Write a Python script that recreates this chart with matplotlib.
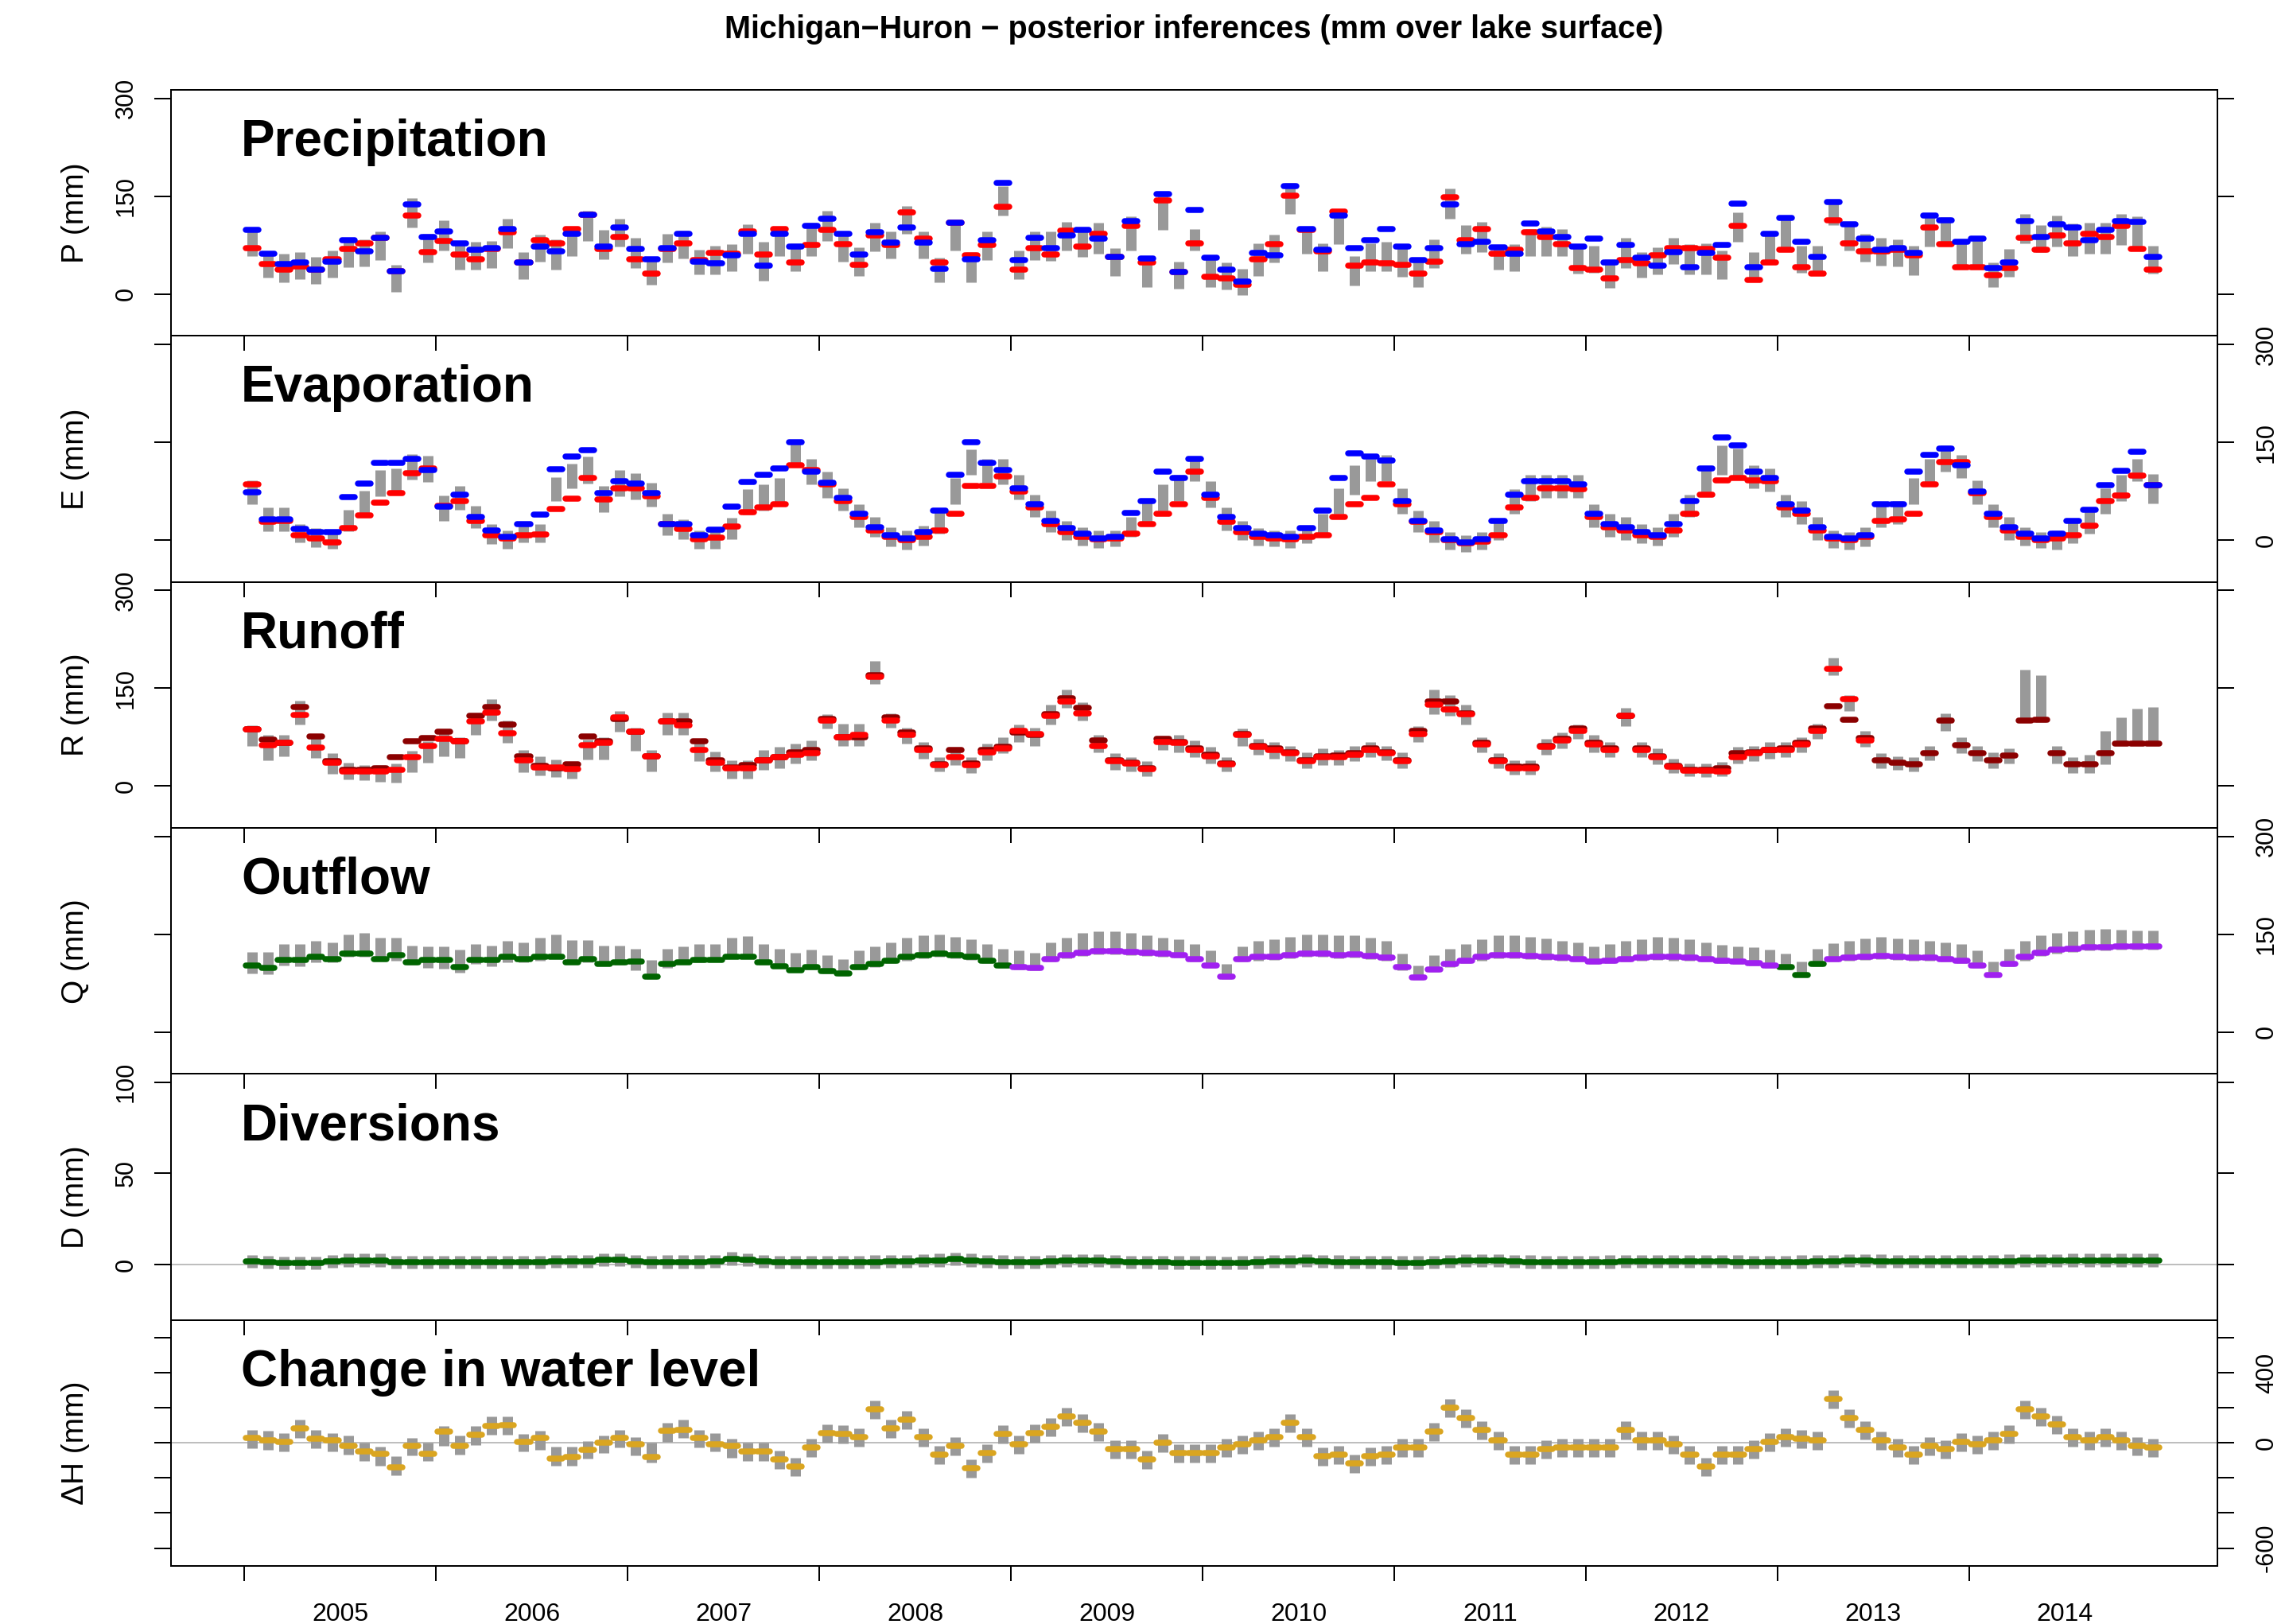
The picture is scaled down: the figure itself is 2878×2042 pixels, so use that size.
import numpy as np
import matplotlib
matplotlib.use("Agg")
import matplotlib.pyplot as plt
from matplotlib.ticker import FixedLocator, FixedFormatter, NullFormatter

nan = np.nan
plt.rcParams['font.family'] = ['Liberation Sans', 'DejaVu Sans']

years = [2005, 2006, 2007, 2008, 2009, 2010, 2011, 2012, 2013, 2014]
title = "Michigan\u2212Huron \u2212 posterior inferences (mm over lake surface)"

# ---------------- Precipitation ----------------
P_blue = [98,62,46,48,37,50,83,65,86,35,137,88,
          96,78,68,70,100,48,73,66,93,122,73,102,
          69,54,70,93,50,47,59,92,44,92,73,104,
          116,92,61,95,79,102,79,39,109,54,83,171,
          52,86,71,90,98,85,57,112,55,153,34,129,
          56,37,19,63,60,165,100,68,120,71,83,100,
          73,52,71,138,76,80,72,62,108,96,87,73,
          85,48,75,56,44,64,41,63,75,139,41,92,
          117,80,57,141,107,85,68,71,63,120,113,80,
          85,40,48,112,87,107,102,83,98,112,111,57]
P_red = [71,46,37,42,37,54,69,78,86,35,121,64,
         82,61,54,69,95,48,83,78,100,122,69,87,
         54,31,69,78,52,63,62,96,61,100,48,75,
         98,76,45,90,75,125,85,49,109,60,75,134,
         37,71,61,97,73,93,57,104,48,143,34,78,
         27,24,14,54,76,151,98,66,126,44,48,47,
         45,31,50,149,83,100,62,68,95,88,76,40,
         37,24,52,47,59,71,71,69,56,105,22,48,
         68,41,31,113,78,66,66,68,59,102,76,41,
         41,29,40,86,68,90,78,93,87,105,69,37]
P_lo = [58,25,18,23,16,25,41,43,52,4,102,48,
        67,37,37,40,70,23,50,37,58,82,54,73,
        40,14,48,55,30,30,35,62,21,58,35,58,
        82,50,28,65,55,92,55,18,67,18,52,121,
        23,52,51,67,57,62,28,67,11,98,8,67,
        11,7,-1,28,48,123,62,35,77,13,35,35,
        27,11,40,116,62,64,37,35,58,58,58,31,
        33,9,40,25,30,46,30,30,23,80,19,52,
        72,33,29,106,67,50,44,43,29,73,74,39,
        39,11,26,78,64,73,58,62,62,75,72,31]
P_hi = [97,62,62,64,57,67,86,84,96,45,147,92,
        113,80,80,81,115,64,91,84,100,128,98,115,
        86,56,92,97,68,74,77,107,80,103,78,109,
        128,93,72,109,96,135,96,56,112,64,96,165,
        67,96,96,111,102,109,70,119,58,157,50,100,
        56,48,39,78,91,170,103,78,127,58,78,80,
        77,56,84,162,106,111,74,76,100,103,100,74,
        74,54,86,64,72,86,76,78,67,125,64,96,
        117,74,74,143,111,92,86,84,74,121,118,80,
        84,48,69,123,106,121,108,109,109,123,119,74]

# ---------------- Evaporation ----------------
E_blue = [73,32,32,17,12,12,66,87,119,119,124,108,
          51,70,36,15,5,24,39,109,128,138,72,90,
          87,72,24,24,7,16,51,89,100,110,150,105,
          88,65,40,20,8,3,12,45,100,150,118,108,
          80,55,30,18,10,3,5,42,60,105,95,125,
          70,35,18,10,8,5,18,45,95,133,128,122,
          60,30,15,2,-3,2,30,70,90,90,90,85,
          40,25,20,12,8,25,60,110,158,145,105,95,
          55,45,20,5,3,8,55,55,105,130,140,115,
          75,40,20,10,3,10,30,46,84,106,136,84]
E_red = [85,28,30,7,3,-3,19,38,57,72,102,110,
         52,60,30,7,3,7,9,48,64,95,62,80,
         80,67,24,17,1,4,21,43,50,55,115,108,
         85,60,35,15,5,0,5,15,40,83,83,98,
         75,50,25,12,5,2,3,10,25,40,55,105,
         65,28,12,5,3,2,5,8,35,55,65,85,
         55,28,12,0,-5,-2,8,50,65,80,80,78,
         35,20,15,8,5,15,40,70,92,95,92,90,
         50,40,15,3,0,5,30,32,40,85,120,120,
         72,35,15,5,0,3,8,22,60,68,99,84]
E_lo = [55,13,13,-4,-11,-13,13,42,67,73,93,89,
        30,47,18,-6,-13,-4,-4,60,79,87,43,67,
        62,51,7,1,-13,-13,1,39,45,55,115,85,
        65,45,20,5,-10,-15,-8,10,55,100,88,85,
        62,35,12,0,-8,-12,-10,5,25,45,60,90,
        50,15,0,-8,-10,-12,-5,10,40,70,90,90,
        40,12,-3,-15,-18,-15,0,40,60,65,65,65,
        20,5,0,-5,-8,5,35,70,100,95,80,75,
        35,25,0,-12,-15,-10,20,25,55,85,105,95,
        55,20,0,-8,-12,-15,-5,10,41,60,90,56]
E_hi = [92,50,50,25,18,13,47,76,107,110,132,129,
        68,83,53,25,15,24,24,97,117,128,83,107,
        102,88,41,32,15,15,34,78,85,95,152,125,
        105,80,55,35,20,15,22,45,95,139,125,125,
        100,70,45,30,20,15,15,35,60,85,100,128,
        90,50,30,18,15,15,22,40,80,115,125,130,
        80,45,30,12,8,12,30,78,100,100,100,100,
        55,40,35,25,20,40,70,110,145,140,115,110,
        70,60,35,15,12,20,55,60,95,125,145,130,
        92,55,35,20,12,15,30,50,79,100,125,101]

# ---------------- Runoff ----------------
R_dark = [87,71,67,121,76,38,25,25,28,44,69,74,
          83,69,108,121,95,46,31,28,34,76,69,103,
          84,46,99,99,69,40,29,32,40,45,52,55,
          103,75,75,170,105,82,58,34,55,35,55,60,
          82,78,110,135,120,70,40,36,28,72,68,58,
          48,35,80,62,58,52,40,46,47,50,58,52,
          40,85,130,130,112,66,40,30,30,62,72,88,
          66,58,108,58,46,31,25,25,27,50,52,56,
          58,66,88,122,102,74,40,36,34,51,100,63,
          51,40,47,100,102,50,33,33,51,65,65,65]
R_red = [87,63,67,109,59,36,23,23,22,25,44,61,
         73,69,99,113,81,40,29,29,26,63,67,105,
         84,46,99,93,55,36,28,28,40,45,48,50,
         100,75,78,168,100,78,55,32,45,32,52,58,
         85,80,108,130,112,62,38,35,26,68,66,56,
         46,34,78,60,56,50,38,45,45,48,56,50,
         38,80,125,118,110,64,38,28,28,60,70,85,
         64,56,108,56,45,30,24,24,22,45,50,55,
         56,64,85,180,133,70,nan,nan,nan,nan,nan,nan,
         nan,nan,nan,nan,nan,nan,nan,nan,nan,nan,nan,nan]
R_lo = [61,40,46,94,43,19,10,9,7,5,21,36,
        46,43,78,100,66,21,17,14,12,41,41,83,
        54,22,78,78,38,22,12,12,25,28,35,40,
        88,62,62,157,90,65,42,22,32,20,40,50,
        68,62,95,120,100,52,25,22,15,55,52,45,
        35,22,62,48,42,38,28,32,32,38,45,40,
        28,68,110,108,95,52,28,18,18,48,58,72,
        52,45,92,45,33,20,15,14,15,35,38,42,
        45,52,72,170,115,60,28,25,22,40,85,50,
        38,28,35,98,98,35,20,20,33,63,63,63]
R_hi = [93,79,79,131,75,50,36,32,32,35,54,69,
        87,75,111,133,100,55,46,41,37,71,75,115,
        89,55,113,113,73,53,40,40,55,60,65,70,
        110,96,96,192,112,90,68,45,58,45,65,75,
        95,90,125,148,128,78,50,45,38,75,78,70,
        60,45,88,72,68,62,52,58,56,62,68,62,
        52,92,148,140,125,75,50,40,40,72,82,95,
        78,68,120,68,58,42,35,35,37,60,62,68,
        68,75,96,197,140,85,50,46,45,62,112,75,
        62,52,58,178,170,62,45,48,85,105,119,121]

# ---------------- Outflow ----------------
Q_green = [102,98,111,111,115,112,120,120,112,118,107,111,
           111,100,111,111,116,112,116,116,107,112,105,107,
           108,85,104,107,111,111,116,115,107,101,95,100,
           94,90,100,105,110,115,118,120,118,116,110,102,
           nan,nan,nan,nan,nan,nan,nan,nan,nan,nan,nan,nan,
           nan,nan,nan,nan,nan,nan,nan,nan,nan,nan,nan,nan,
           nan,nan,nan,nan,nan,nan,nan,nan,nan,nan,nan,nan,
           nan,nan,nan,nan,nan,nan,nan,nan,nan,nan,nan,nan,
           100,88,105,nan,nan,nan,nan,nan,nan,nan,nan,nan,
           nan,nan,nan,nan,nan,nan,nan,nan,nan,nan,nan,nan]
Q_purple = [nan,nan,nan,nan,nan,nan,nan,nan,nan,nan,nan,nan,
            nan,nan,nan,nan,nan,nan,nan,nan,nan,nan,nan,nan,
            nan,nan,nan,nan,nan,nan,nan,nan,nan,nan,nan,nan,
            nan,nan,nan,nan,nan,nan,nan,nan,nan,nan,nan,nan,
            100,98,112,118,122,124,124,123,122,120,118,112,
            102,85,112,115,116,118,120,120,118,119,117,114,
            100,84,96,105,110,115,118,118,117,116,114,112,
            108,110,112,114,116,115,114,112,110,108,106,102,
            nan,nan,nan,112,114,116,117,116,114,114,112,110,
            102,88,105,115,122,126,128,130,130,131,131,132]
Q_lo = [90,89,102,101,107,107,116,116,109,110,103,99,
        97,91,104,101,107,107,110,117,107,107,103,103,
        95,82,99,104,107,108,115,118,103,98,92,96,
        90,86,96,100,106,110,113,115,113,111,106,98,
        96,95,108,113,117,119,119,118,117,116,114,108,
        98,82,108,110,111,113,115,115,113,114,112,109,
        95,80,92,100,106,110,113,113,112,111,109,108,
        104,106,108,109,111,110,109,108,106,104,102,98,
        96,85,101,108,110,111,112,111,109,109,108,106,
        98,85,101,110,117,121,123,125,125,126,126,127]
Q_hi = [123,123,135,135,140,138,150,152,145,145,133,131,
        131,126,135,133,140,138,145,150,141,141,133,133,
        128,111,128,131,135,135,145,147,135,128,122,126,
        118,112,125,132,138,145,148,150,146,142,135,128,
        125,122,138,145,152,155,155,152,148,145,142,135,
        125,105,132,140,142,146,150,150,148,148,145,140,
        120,102,118,128,135,142,148,148,146,144,140,138,
        132,135,140,142,146,145,142,138,134,132,130,126,
        120,108,128,136,140,144,146,144,142,140,138,135,
        125,108,128,140,148,152,155,157,158,157,156,156]

# ---------------- Diversions ----------------
D_val = [1.7,1.3,0.9,0.9,0.9,1.6,2.3,2.3,2.3,1.2,1.2,1.2,
         1.2,1.2,1.2,1.2,1.2,1.2,1.2,1.7,1.7,1.8,2.6,2.6,
         1.7,1.3,1.5,1.5,1.5,1.7,3.2,2.5,1.6,1.4,1.3,1.3,
         1.2,1.2,1.3,1.5,1.6,1.8,2.0,2.4,3.0,2.4,1.8,1.5,
         1.4,1.3,1.6,2.0,2.2,2.0,1.6,1.4,1.2,1.1,1.0,1.0,
         1.0,0.9,1.0,1.3,1.6,1.8,2.2,1.8,1.5,1.3,1.2,1.1,
         1.0,1.0,1.2,1.6,2.0,2.2,2.0,1.7,1.5,1.4,1.3,1.3,
         1.4,1.5,1.6,1.7,1.8,1.8,1.8,1.7,1.6,1.5,1.4,1.4,
         1.4,1.5,1.6,1.8,2.0,2.0,1.9,1.8,1.7,1.6,1.6,1.6,
         1.7,1.8,1.9,2.0,2.1,2.2,2.3,2.3,2.4,2.4,2.4,2.4]
D_lo = [-1.8,-2.2,-2.6,-2.6,-2.6,-1.9,-1.2,-1.2,-1.2,-2.3,-2.3,-2.3,
        -2.3,-2.3,-2.3,-2.3,-2.3,-2.3,-2.3,-1.8,-1.8,-1.7,-0.9,-0.9,
        -1.8,-2.2,-2.0,-2.0,-2.0,-1.8,-0.3,-1.0,-1.9,-2.1,-2.2,-2.2,
        -2.3,-2.3,-2.2,-2.0,-1.9,-1.7,-1.5,-1.1,-0.5,-1.1,-1.7,-2.0,
        -2.1,-2.2,-1.9,-1.5,-1.3,-1.5,-1.9,-2.1,-2.3,-2.4,-2.5,-2.5,
        -2.5,-2.6,-2.5,-2.2,-1.9,-1.7,-1.3,-1.7,-2.0,-2.2,-2.3,-2.4,
        -2.5,-2.5,-2.3,-1.9,-1.5,-1.3,-1.5,-1.8,-2.0,-2.1,-2.2,-2.2,
        -2.1,-2.0,-1.9,-1.8,-1.7,-1.7,-1.7,-1.8,-1.9,-2.0,-2.1,-2.1,
        -2.1,-2.0,-1.9,-1.7,-1.5,-1.5,-1.6,-1.7,-1.8,-1.9,-1.9,-1.9,
        -1.8,-1.7,-1.6,-1.5,-1.4,-1.3,-1.2,-1.2,-1.1,-1.1,-1.1,-1.1]
D_hi = [5.3,4.9,4.5,4.5,4.5,5.2,5.9,5.9,5.9,4.8,4.8,4.8,
        4.8,4.8,4.8,4.8,4.8,4.8,4.8,5.3,5.3,5.4,6.2,6.2,
        5.3,4.9,5.1,5.1,5.1,5.3,6.8,6.1,5.2,5.0,4.9,4.9,
        4.8,4.8,4.9,5.1,5.2,5.4,5.6,6.0,6.6,6.0,5.4,5.1,
        5.0,4.9,5.2,5.6,5.8,5.6,5.2,5.0,4.8,4.7,4.6,4.6,
        4.6,4.5,4.6,4.9,5.2,5.4,5.8,5.4,5.1,4.9,4.8,4.7,
        4.6,4.6,4.8,5.2,5.6,5.8,5.6,5.3,5.1,5.0,4.9,4.9,
        5.0,5.1,5.2,5.3,5.4,5.4,5.4,5.3,5.2,5.1,5.0,5.0,
        5.0,5.1,5.2,5.4,5.6,5.6,5.5,5.4,5.3,5.2,5.2,5.2,
        5.3,5.4,5.5,5.6,5.7,5.8,5.9,5.9,6.0,6.0,6.0,6.0]

# ---------------- Change in water level ----------------
H_val = [30,15,5,83,23,15,-15,-50,-61,-139,-15,-61,
         64,-15,49,95,103,5,30,-88,-79,-38,3,30,
         -8,-79,71,73,30,-8,-15,-50,-50,-92,-133,-25,
         58,50,33,192,83,133,33,-67,-17,-142,-58,50,
         -8,58,92,150,117,67,-33,-33,-92,0,-58,-58,
         -58,-25,-8,17,33,117,33,-75,-67,-117,-75,-67,
         -25,-25,67,200,142,75,17,-67,-67,-33,-25,-25,
         -25,-25,75,17,17,-8,-67,-133,-67,-67,-33,8,
         33,25,17,250,142,75,17,-25,-67,-17,-33,8,
         -8,17,50,192,150,108,33,17,33,17,-17,-25]
H_lo = [-30,-38,-48,27,-30,-48,-65,-101,-129,-185,-73,-101,
        -18,-65,-10,45,45,-48,-38,-129,-129,-91,-58,-27,
        -73,-110,8,27,-26,-48,-83,-101,-105,-147,-188,-80,
        3,-5,-22,137,28,78,-22,-122,-72,-197,-113,-5,
        -63,3,37,95,62,12,-88,-88,-147,-55,-113,-113,
        -113,-80,-63,-38,-22,62,-22,-130,-122,-172,-130,-122,
        -80,-80,12,145,87,20,-38,-122,-122,-88,-80,-80,
        -80,-80,20,-38,-38,-63,-122,-188,-122,-122,-88,-47,
        -22,-30,-38,195,87,20,-38,-80,-122,-72,-88,-47,
        -63,-38,-5,137,95,53,-22,-38,-22,-38,-72,-80]
H_hi = [76,68,58,132,76,58,41,3,-23,-76,30,3,
        95,41,95,151,151,50,68,-23,-23,12,41,76,
        33,0,114,132,76,58,23,3,0,-42,-83,25,
        108,100,83,242,133,183,83,-17,33,-92,-8,100,
        42,108,142,200,167,117,17,17,-42,50,-8,-8,
        -8,25,42,67,83,167,83,-25,-17,-67,-25,-17,
        25,25,117,250,192,125,67,-17,-17,17,25,25,
        25,25,125,67,67,42,-17,-83,-17,-17,17,58,
        83,75,67,300,192,125,67,25,-17,33,17,58,
        42,67,100,242,200,158,83,67,83,67,33,25]

# ---------------- figure ----------------
W_PX, H_PX, DPI = 2878, 2042, 100
PX = 72.0 / DPI   # points per pixel

fig = plt.figure(figsize=(W_PX / DPI, H_PX / DPI), dpi=DPI)
fig.patch.set_facecolor('white')

x = 2005 + (np.arange(120) + 0.5) / 12.0
half = 0.4 / 12.0

left, right = 215 / W_PX, 2788 / W_PX
top, bottom = 1 - 113 / H_PX, 1 - 1969 / H_PX
ph = (top - bottom) / 6

GRAY = '#999999'


def bars(ax, lo, hi):
    ax.vlines(x, np.asarray(lo, float), np.asarray(hi, float), colors=GRAY,
              linewidth=13 * PX, capstyle='butt', zorder=2)


def dashes(ax, y, color, z):
    y = np.asarray(y, float)
    m = ~np.isnan(y)
    ax.hlines(y[m], x[m] - half, x[m] + half, colors=color,
              linewidth=7.5 * PX, capstyle='round', zorder=z)


panels = [
    dict(name='Precipitation', ylab='P (mm)', ylim=(-64, 313), ticks=[0, 150, 300],
         labels=['0', '150', '300'], side='left'),
    dict(name='Evaporation', ylab='E (mm)', ylim=(-64, 313), ticks=[0, 150, 300],
         labels=['0', '150', '300'], side='right'),
    dict(name='Runoff', ylab='R (mm)', ylim=(-64, 313), ticks=[0, 150, 300],
         labels=['0', '150', '300'], side='left'),
    dict(name='Outflow', ylab='Q (mm)', ylim=(-64, 313), ticks=[0, 150, 300],
         labels=['0', '150', '300'], side='right'),
    dict(name='Diversions', ylab='D (mm)', ylim=(-30.4, 104.6), ticks=[0, 50, 100],
         labels=['0', '50', '100'], side='left'),
    dict(name='Change in water level', ylab='\u0394H (mm)', ylim=(-702, 702),
         ticks=[-600, -400, -200, 0, 200, 400, 600],
         labels=['-600', '', '', '0', '', '400', ''], side='right'),
]

axes = []
for k, spec in enumerate(panels):
    ax = fig.add_axes([left, top - (k + 1) * ph, right - left, ph])
    ax.set_facecolor('none')
    axes.append(ax)
    ax.set_xlim(2004.618, 2015.295)
    ax.set_ylim(*spec['ylim'])
    for s in ax.spines.values():
        s.set_linewidth(2 * PX)
        s.set_color('black')
    ax.xaxis.set_major_locator(FixedLocator(years))
    ax.xaxis.set_major_formatter(NullFormatter())
    ax.xaxis.set_minor_locator(FixedLocator([y + 0.5 for y in years]))
    if k == 5:
        ax.xaxis.set_minor_formatter(FixedFormatter([str(y) for y in years]))
    else:
        ax.xaxis.set_minor_formatter(NullFormatter())
    ax.tick_params(axis='x', which='major', direction='out', length=19 * PX,
                   width=2 * PX, bottom=True, top=False)
    ax.tick_params(axis='x', which='minor', length=0, labelsize=23, pad=33,
                   bottom=True, top=False)
    ax.yaxis.set_major_locator(FixedLocator(spec['ticks']))
    ax.yaxis.set_major_formatter(FixedFormatter(spec['labels']))
    ax.yaxis.set_minor_locator(FixedLocator([]))
    lside = spec['side'] == 'left'
    ax.tick_params(axis='y', which='major', direction='out', length=21 * PX,
                   width=2 * PX, left=True, right=True, labelleft=lside,
                   labelright=not lside, labelsize=22,
                   pad=(14.8 if lside else 18.7), labelrotation=90)
    for t in ax.yaxis.get_major_ticks():
        t.label1.set_va('center')
        t.label2.set_va('center')
    ax.set_ylabel(spec['ylab'], fontsize=28, va='center')
    ax.yaxis.set_label_coords(-0.0466, 0.5)
    ax.text(0.0342, 0.7317, spec['name'], transform=ax.transAxes, fontsize=46,
            fontweight='bold', ha='left', va='baseline', zorder=6)

bars(axes[0], P_lo, P_hi)
dashes(axes[0], P_red, '#FF0000', 3)
dashes(axes[0], P_blue, '#0000FF', 4)

bars(axes[1], E_lo, E_hi)
dashes(axes[1], E_red, '#FF0000', 3)
dashes(axes[1], E_blue, '#0000FF', 4)

bars(axes[2], R_lo, R_hi)
dashes(axes[2], R_dark, '#8B0000', 3)
dashes(axes[2], R_red, '#FF0000', 4)

bars(axes[3], Q_lo, Q_hi)
dashes(axes[3], Q_green, '#006400', 3)
dashes(axes[3], Q_purple, '#A020F0', 4)

axes[4].axhline(0, color='#BEBEBE', lw=2 * PX, zorder=1)
bars(axes[4], D_lo, D_hi)
dashes(axes[4], D_val, '#006400', 3)

axes[5].axhline(0, color='#BEBEBE', lw=2 * PX, zorder=1)
bars(axes[5], H_lo, H_hi)
dashes(axes[5], H_val, '#DAA520', 3)

fig.text((left + right) / 2, 1 - 37 / H_PX, title, ha='center', va='center',
         fontsize=28.5, fontweight='bold')

fig.savefig('out.png', dpi=DPI)
